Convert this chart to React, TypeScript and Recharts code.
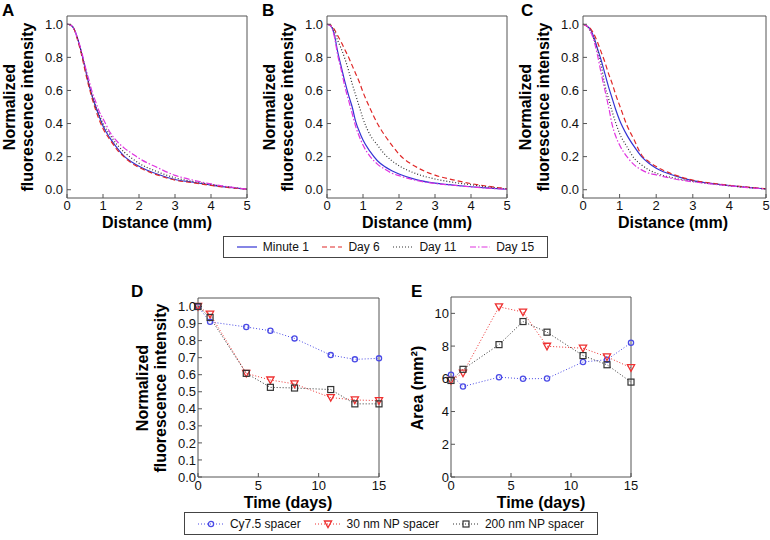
import React from "react";
import { LineChart, Line, XAxis, YAxis } from "recharts";

// distance profiles (mm) for panels A, B, C
const distance = [0, 0.1, 0.2, 0.3, 0.4, 0.5, 0.6, 0.7, 0.8, 0.9, 1.0, 1.2, 1.4, 1.6, 1.8, 2.0, 2.5, 3.0, 3.5, 4.0, 4.5, 5.0];

const aMinute1 = [1.0, 0.995, 0.97, 0.91, 0.83, 0.74, 0.645, 0.565, 0.5, 0.44, 0.385, 0.31, 0.25, 0.2, 0.168, 0.142, 0.095, 0.062, 0.045, 0.028, 0.014, 0.003];
const aDay6 = [1.0, 0.995, 0.97, 0.9, 0.82, 0.72, 0.63, 0.55, 0.48, 0.42, 0.37, 0.3, 0.24, 0.195, 0.16, 0.135, 0.09, 0.058, 0.042, 0.026, 0.013, 0.003];
const aDay11 = [1.0, 0.995, 0.97, 0.91, 0.83, 0.74, 0.65, 0.57, 0.5, 0.45, 0.4, 0.33, 0.27, 0.225, 0.19, 0.16, 0.11, 0.072, 0.05, 0.032, 0.016, 0.003];
const aDay15 = [1.0, 0.995, 0.97, 0.91, 0.84, 0.75, 0.67, 0.59, 0.53, 0.47, 0.43, 0.345, 0.29, 0.25, 0.22, 0.19, 0.135, 0.087, 0.058, 0.035, 0.017, 0.003];

const bMinute1 = [1.0, 0.99, 0.94, 0.83, 0.74, 0.65, 0.57, 0.5, 0.41, 0.35, 0.3, 0.23, 0.175, 0.14, 0.115, 0.095, 0.06, 0.04, 0.028, 0.018, 0.01, 0.003];
const bDay6 = [1.0, 0.995, 0.97, 0.93, 0.89, 0.845, 0.8, 0.75, 0.7, 0.65, 0.59, 0.49, 0.4, 0.33, 0.27, 0.215, 0.135, 0.088, 0.06, 0.037, 0.02, 0.006];
const bDay11 = [1.0, 0.99, 0.96, 0.9, 0.85, 0.79, 0.72, 0.64, 0.57, 0.5, 0.43, 0.33, 0.27, 0.215, 0.175, 0.145, 0.095, 0.065, 0.045, 0.03, 0.016, 0.004];
const bDay15 = [1.0, 0.99, 0.93, 0.81, 0.72, 0.62, 0.54, 0.46, 0.38, 0.32, 0.27, 0.2, 0.155, 0.125, 0.1, 0.085, 0.055, 0.038, 0.027, 0.017, 0.009, 0.003];

const cMinute1 = [1.0, 0.99, 0.97, 0.92, 0.85, 0.78, 0.7, 0.62, 0.55, 0.48, 0.42, 0.33, 0.26, 0.2, 0.16, 0.13, 0.085, 0.055, 0.038, 0.025, 0.014, 0.005];
const cDay6 = [1.0, 0.99, 0.975, 0.94, 0.89, 0.83, 0.77, 0.7, 0.64, 0.57, 0.51, 0.39, 0.3, 0.21, 0.17, 0.14, 0.09, 0.058, 0.04, 0.027, 0.016, 0.006];
const cDay11 = [1.0, 0.99, 0.96, 0.91, 0.84, 0.75, 0.63, 0.55, 0.47, 0.4, 0.34, 0.26, 0.19, 0.15, 0.12, 0.1, 0.07, 0.05, 0.036, 0.024, 0.013, 0.005];
const cDay15 = [1.0, 0.99, 0.96, 0.9, 0.81, 0.7, 0.6, 0.5, 0.39, 0.32, 0.27, 0.2, 0.15, 0.12, 0.1, 0.09, 0.065, 0.048, 0.035, 0.024, 0.013, 0.005];

const distTicks = [0, 1, 2, 3, 4, 5];
const intensityTicks = [0, 0.2, 0.4, 0.6, 0.8, 1.0];

// time course for panels D, E
const days = [0, 1, 4, 6, 8, 11, 13, 15];
const dCy75 = [1.0, 0.91, 0.88, 0.858, 0.813, 0.715, 0.69, 0.696];
const d30nm = [1.0, 0.955, 0.608, 0.569, 0.546, 0.466, 0.452, 0.448];
const d200nm = [1.0, 0.936, 0.608, 0.526, 0.522, 0.513, 0.429, 0.429];
const eCy75 = [6.25, 5.53, 6.1, 6.0, 6.02, 7.03, 7.17, 8.2];
const e30nm = [5.9, 6.35, 10.4, 10.08, 7.99, 7.87, 7.34, 6.68];
const e200nm = [5.9, 6.58, 8.09, 9.5, 8.85, 7.42, 6.86, 5.8];

const dayTicks = [0, 5, 10, 15];
const dTicks = [0, 0.1, 0.2, 0.3, 0.4, 0.5, 0.6, 0.7, 0.8, 0.9, 1.0];
const eTicks = [0, 2, 4, 6, 8, 10];

const FONT = "'Liberation Sans', Arial, Helvetica, sans-serif";
const FRAME = "#555";

const curveStyles = [
  { key: "m1", name: "Minute 1", color: "#3434d4", dash: undefined },
  { key: "d6", name: "Day 6", color: "#e02828", dash: "5 3" },
  { key: "d11", name: "Day 11", color: "#333", dash: "1 2" },
  { key: "d15", name: "Day 15", color: "#e034e0", dash: "6 2 1.5 2" },
];

const timeStyles = [
  { key: "cy", name: "Cy7.5 spacer", color: "#4a4ae6", shape: "circle" },
  { key: "n30", name: "30 nm NP spacer", color: "#ee3030", shape: "tri" },
  { key: "n200", name: "200 nm NP spacer", color: "#333", shape: "square" },
];

const curveRows = (m1: number[], d6: number[], d11: number[], d15: number[]) =>
  distance.map((x, i) => ({ x, m1: m1[i], d6: d6[i], d11: d11[i], d15: d15[i] }));

const timeRows = (cy: number[], n30: number[], n200: number[]) =>
  days.map((x, i) => ({ x, cy: cy[i], n30: n30[i], n200: n200[i] }));

const dataA = curveRows(aMinute1, aDay6, aDay11, aDay15);
const dataB = curveRows(bMinute1, bDay6, bDay11, bDay15);
const dataC = curveRows(cMinute1, cDay6, cDay11, cDay15);
const dataD = timeRows(dCy75, d30nm, d200nm);
const dataE = timeRows(eCy75, e30nm, e200nm);

const Marker = ({ shape, color, cx, cy }: any) => {
  if (cx == null || cy == null) return <g />;
  if (shape === "circle")
    return <circle cx={cx} cy={cy} r={2.6} fill="none" stroke={color} strokeWidth={1.3} />;
  if (shape === "tri")
    return (
      <path
        d={`M${cx - 3.6},${cy - 3} L${cx + 3.6},${cy - 3} L${cx},${cy + 3.6} Z`}
        fill="none"
        stroke={color}
        strokeWidth={1.3}
      />
    );
  return <rect x={cx - 3} y={cy - 3} width={6} height={6} fill="none" stroke={color} strokeWidth={1.2} />;
};

const tickStyle = { fill: "#111", fontSize: 13, fontFamily: FONT };

function Panel(props: any) {
  const { x, y, w, h, data, xDomain, xTicks, yDomain, yTicks, yFmt, children, mx = 8, my = 8 } = props;
  const padL = 50, padR = 8, padT = 8, padB = 24;
  return (
    <div style={{ position: "absolute", left: x - padL, top: y - padT }}>
      <LineChart
        width={w + padL + padR}
        height={h + padT + padB}
        data={data}
        margin={{ top: 0, right: 0, bottom: 0, left: 0 }}
      >
        <XAxis
          xAxisId="b"
          dataKey="x"
          type="number"
          domain={xDomain}
          ticks={xTicks}
          interval={0}
          height={padB}
          stroke={FRAME}
          tickSize={-4}
          tickMargin={mx}
          tick={tickStyle}
        />
        <XAxis
          xAxisId="t"
          orientation="top"
          dataKey="x"
          type="number"
          domain={xDomain}
          ticks={xTicks}
          interval={0}
          height={padT}
          stroke={FRAME}
          tickSize={-4}
          tick={false}
        />
        <YAxis
          yAxisId="l"
          type="number"
          domain={yDomain}
          ticks={yTicks}
          interval={0}
          width={padL}
          stroke={FRAME}
          tickSize={-4}
          tickMargin={my}
          tickFormatter={yFmt}
          tick={tickStyle}
        />
        <YAxis
          yAxisId="r"
          orientation="right"
          type="number"
          domain={yDomain}
          ticks={yTicks}
          interval={0}
          width={padR}
          stroke={FRAME}
          tickSize={-4}
          tick={false}
        />
        {children}
      </LineChart>
    </div>
  );
}

const curveLines = () =>
  curveStyles.map((s) => (
    <Line
      key={s.key}
      xAxisId="b"
      yAxisId="l"
      type="monotone"
      dataKey={s.key}
      stroke={s.color}
      strokeWidth={1.2}
      strokeDasharray={s.dash}
      dot={false}
      isAnimationActive={false}
    />
  ));

const timeLines = () =>
  timeStyles.map((s) => (
    <Line
      key={s.key}
      xAxisId="b"
      yAxisId="l"
      type="linear"
      dataKey={s.key}
      stroke={s.color}
      strokeWidth={1}
      strokeDasharray="1 2"
      dot={(p: any) => <Marker key={p.index} shape={s.shape} color={s.color} cx={p.cx} cy={p.cy} />}
      isAnimationActive={false}
    />
  ));

const fmt1 = (v: number) => v.toFixed(1);

const CurvePanel = ({ x, data }: any) => (
  <Panel
    x={x}
    y={16}
    w={x > 500 ? 183 : 180}
    h={182}
    data={data}
    xDomain={[0, 5]}
    xTicks={distTicks}
    yDomain={[-0.05, 1.05]}
    yTicks={intensityTicks}
    yFmt={fmt1}
    mx={7}
  >
    {curveLines()}
  </Panel>
);

const legendBox = {
  position: "absolute" as const,
  border: "1px solid #444",
  display: "flex",
  alignItems: "center",
  justifyContent: "space-around",
  padding: "0 6px",
  boxSizing: "border-box" as const,
  fontFamily: FONT,
  fontSize: 12,
  color: "#111",
  background: "#fff",
};

const CurveLegend = () => (
  <div style={{ ...legendBox, left: 223, top: 236, width: 325, height: 22 }}>
    {curveStyles.map((s) => (
      <span key={s.key} style={{ display: "flex", alignItems: "center" }}>
        <svg width={20} height={8} style={{ marginRight: 6 }}>
          <line x1={0} y1={4} x2={20} y2={4} stroke={s.color} strokeWidth={1.2} strokeDasharray={s.dash} />
        </svg>
        {s.name}
      </span>
    ))}
  </div>
);

const TimeLegend = () => (
  <div style={{ ...legendBox, left: 184, top: 512, width: 414, height: 23 }}>
    {timeStyles.map((s) => (
      <span key={s.key} style={{ display: "flex", alignItems: "center" }}>
        <svg width={26} height={10} style={{ marginRight: 6 }}>
          <line x1={0} y1={5} x2={26} y2={5} stroke={s.color} strokeWidth={1} strokeDasharray="1 2" />
          <Marker shape={s.shape} color={s.color} cx={13} cy={5} />
        </svg>
        {s.name}
      </span>
    ))}
  </div>
);

const letter = { fontFamily: FONT, fontSize: 17, fontWeight: 700, fill: "#000" };
const title = { fontFamily: FONT, fontSize: 16, fontWeight: 700, fill: "#000" };

const YTitle = ({ x, y, text }: any) => (
  <text x={x} y={y} transform={`rotate(-90 ${x} ${y})`} textAnchor="middle" style={title}>
    {text}
  </text>
);

const Labels = () => (
  <svg width={770} height={540} style={{ position: "absolute", left: 0, top: 0, pointerEvents: "none" }}>
    <text x={2} y={16} style={letter}>A</text>
    <text x={262} y={16} style={letter}>B</text>
    <text x={521} y={16} style={letter}>C</text>
    <text x={131} y={297} style={letter}>D</text>
    <text x={411} y={297} style={letter}>E</text>

    {[67, 327, 583].map((px) => (
      <g key={px}>
        <YTitle x={px - 52} y={107} text="Normalized" />
        <YTitle x={px - 34} y={107} text="fluorescence intensity" />
        <text x={px + 90} y={228} textAnchor="middle" style={title}>Distance (mm)</text>
      </g>
    ))}

    <YTitle x={148} y={388} text="Normalized" />
    <YTitle x={166} y={388} text="fluorescence intensity" />
    <text x={288} y={508} textAnchor="middle" style={title}>Time (days)</text>

    <YTitle x={423} y={388} text="Area (mm²)" />
    <text x={541} y={508} textAnchor="middle" style={title}>Time (days)</text>
  </svg>
);

export default function App() {
  return (
    <div style={{ position: "absolute", left: 0, top: 0, width: 770, height: 540, background: "#fff", overflow: "hidden" }}>
      <CurvePanel x={67} data={dataA} />
      <CurvePanel x={327} data={dataB} />
      <CurvePanel x={583} data={dataC} />
      <CurveLegend />
      <Panel
        x={198}
        y={298}
        w={181}
        h={179}
        data={dataD}
        xDomain={[0, 15]}
        xTicks={dayTicks}
        yDomain={[0, 1.05]}
        yTicks={dTicks}
        yFmt={fmt1}
        mx={8}
        my={6}
      >
        {timeLines()}
      </Panel>
      <Panel
        x={451}
        y={297}
        w={180}
        h={180}
        data={dataE}
        xDomain={[0, 15]}
        xTicks={dayTicks}
        yDomain={[0, 11]}
        yTicks={eTicks}
        mx={8}
        my={6}
      >
        {timeLines()}
      </Panel>
      <TimeLegend />
      <Labels />
    </div>
  );
}
